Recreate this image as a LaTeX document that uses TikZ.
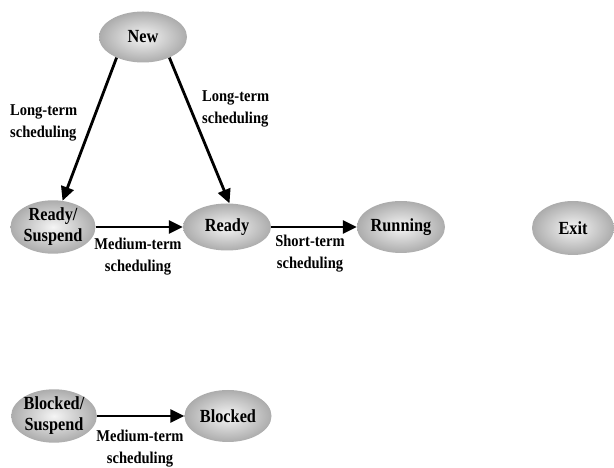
\documentclass[tikz,border=0pt]{standalone}
\usepackage{fontspec}
\setmainfont{Liberation Serif}
\newfontfamily\diafont[FakeStretch=0.88]{Liberation Serif}
\usetikzlibrary{shapes.geometric,arrows.meta}

\tikzset{
	state/.style={ellipse, shading=radial, inner color=gray!8, outer color=gray!65, inner sep=0pt, minimum width=86pt, minimum height=50pt, align=center, font=\diafont\fontsize{18.5}{21}\selectfont\bfseries},
	sched/.style={inner sep=0pt, font=\diafont\fontsize{16.5}{22}\selectfont\bfseries},
	trans/.style={line width=2.8pt, -{Triangle[length=14pt,width=13pt]}}
}

\begin{document}
\begin{tikzpicture}[x=1pt,y=1pt]
		\useasboundingbox (0,0) rectangle (614,468);
		
		%states
		\node (new) at (143, 431) [state, minimum width=88pt, minimum height=51pt]{New};
		\node (rsus) at (53, 241) [state, minimum width=85pt]{Ready/\\Suspend};
		\node (ready) at (227, 241) [state, minimum width=88pt, minimum height=47pt]{Ready};
		\node (run) at (401, 241) [state, minimum width=88pt, minimum height=52pt]{Running};
		\node (exit) at (573, 240) [state, minimum width=82pt, minimum height=54pt]{Exit};
		\node (bsus) at (54, 52) [state, minimum width=85pt, minimum height=52pt]{Blocked/\\Suspend};
		\node (blk) at (228, 52) [state, minimum width=87pt, minimum height=52pt]{Blocked};
		
		%transitions
		\draw[trans] (new.218) -- (rsus.70);
		\draw[trans] (new.-38) -- (ready.84);
		\draw[trans] (rsus.east) -- (ready.west);
		\draw[trans] (ready.east) -- (run.west);
		\draw[trans] (bsus.east) -- (blk.west);
		
		%labels
		\node (lt1) at (10, 345) [sched, anchor=west, align=left]{Long-term\\scheduling};
		\node (lt2) at (202, 359) [sched, anchor=west, align=left]{Long-term\\scheduling};
		\node (mt1) at (138, 211) [sched, align=center]{Medium-term\\scheduling};
		\node (st) at (310, 214) [sched, align=center]{Short-term\\scheduling};
		\node (mt2) at (140, 19) [sched, align=center]{Medium-term\\scheduling};
	\end{tikzpicture}
\end{document}
